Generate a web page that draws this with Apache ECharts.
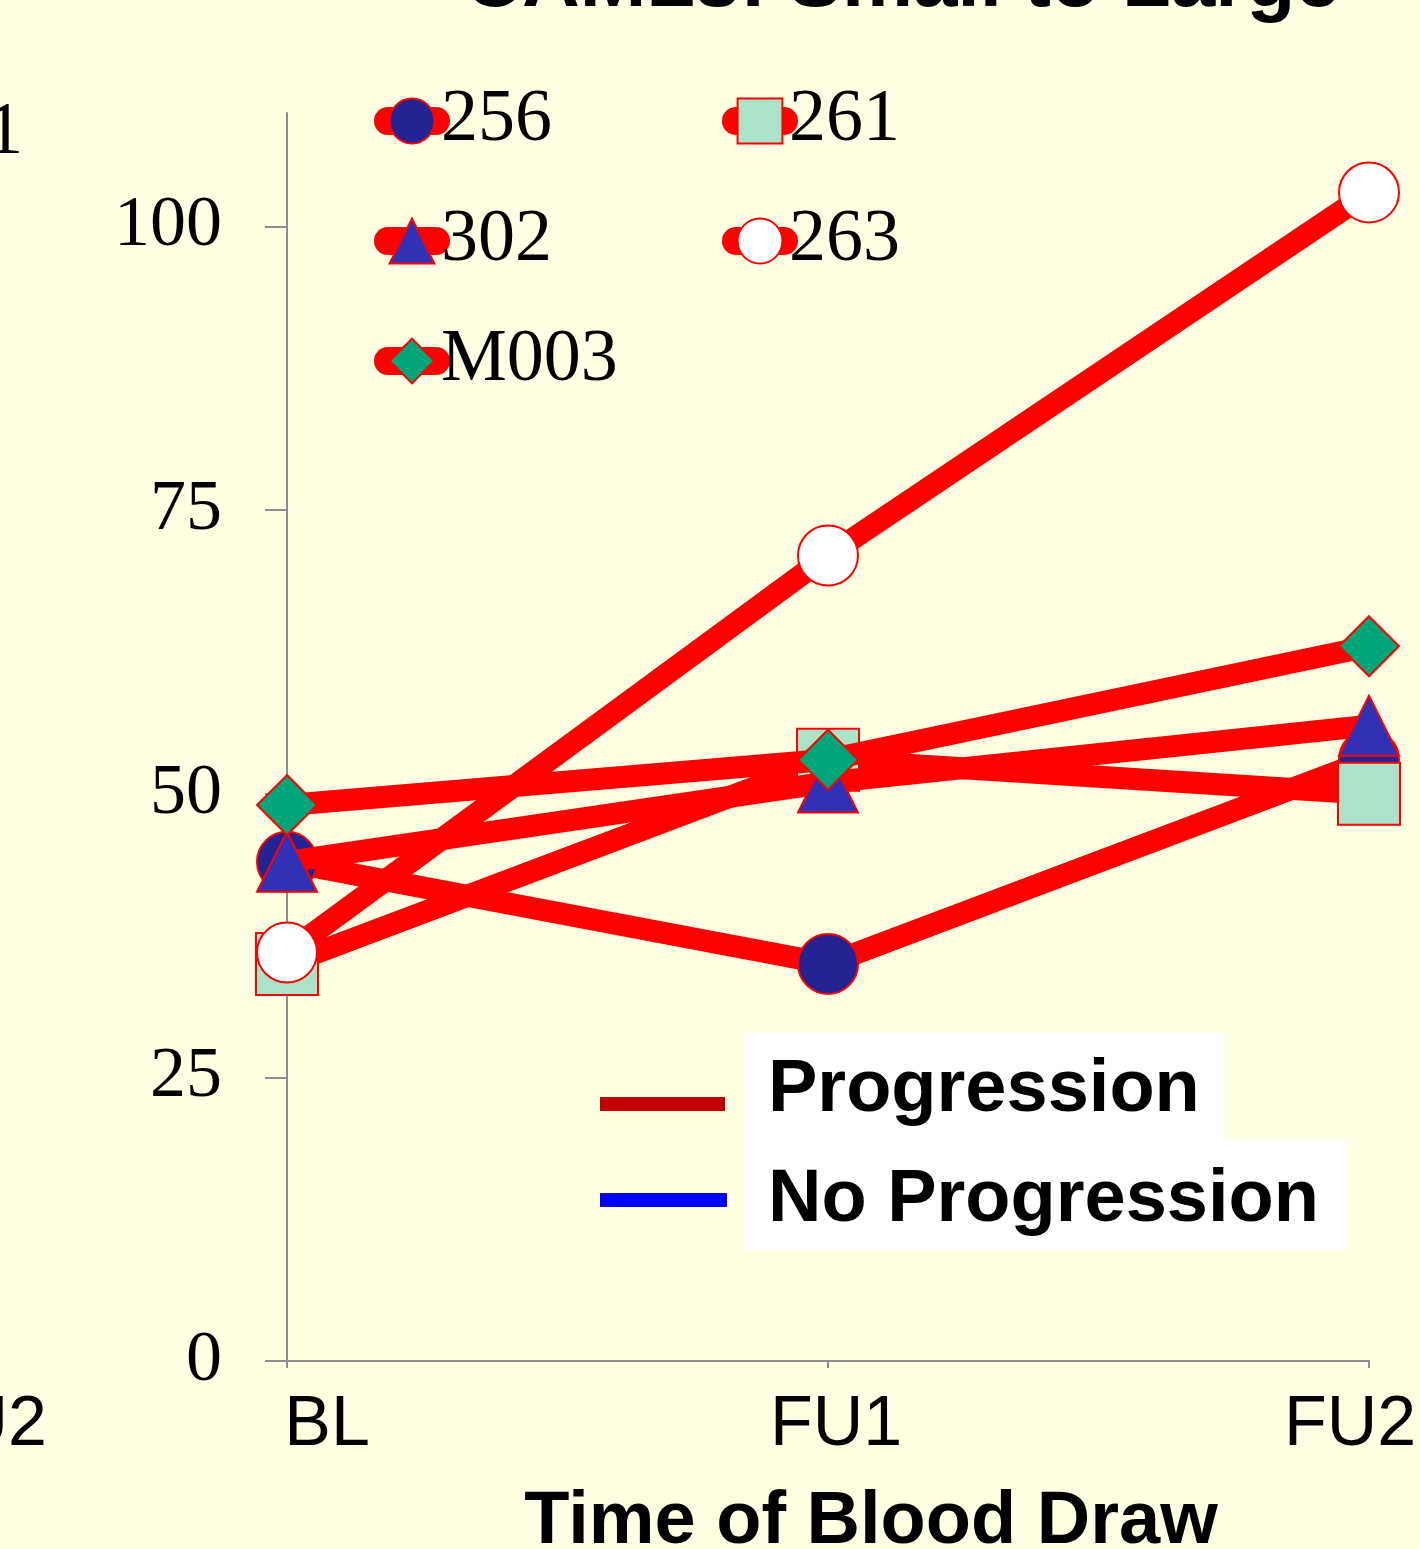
<!DOCTYPE html>
<html>
<head>
<meta charset="utf-8">
<script src="https://cdn.jsdelivr.net/npm/echarts@6/dist/echarts.min.js"></script>
<style>
  html, body { margin: 0; padding: 0; background: #FFFFE3; }
  #chart { width: 1420px; height: 1549px; }
</style>
</head>
<body>
<div id="chart"></div>
<script>
// Time points of the blood draws
const timepoints = ['BL', 'FU1', 'FU2'];
// CAML size per patient at each time point
const patients = ['256', '261', '302', '263', 'M003'];
const camls256 = [44, 35, 53];
const camls261 = [35, 53, 50];
const camls302 = [44, 51, 56];
const camls263 = [36, 71, 103];
const camlsM003 = [49, 53, 63];
const yTicks = [0, 25, 50, 75, 100];
const outcomeLabels = ['Progression', 'No Progression'];

const seriesValues = [camls256, camls261, camls302, camls263, camlsM003];
const markerShapes = ['circle', 'rect', 'triangle', 'circle', 'diamond'];
const markerFills = ['#232394', '#ABE3C9', '#3131B5', '#FFFFFF', '#00A67A'];
const markerSizes = [60, 62, 60, 60, 60];

const RED = '#FF0000';
const AXIS = '#8E8E8E';
const SERIF = '"Liberation Serif", "Times New Roman", serif';
const SANS = '"Liberation Sans", Arial, sans-serif';

const chart = echarts.init(document.getElementById('chart'), null, { renderer: 'canvas' });

const series = patients.map((name, i) => ({
  name: name,
  type: 'line',
  data: seriesValues[i],
  z: 2 + i,
  symbol: markerShapes[i],
  symbolSize: markerSizes[i],
  showAllSymbol: true,
  animation: false,
  lineStyle: { color: RED, width: 22, cap: 'round', join: 'round' },
  itemStyle: { color: markerFills[i], borderColor: RED, borderWidth: 2 },
  emphasis: { disabled: true }
}));

const legendCommon = {
  orient: 'vertical',
  padding: 0,
  itemWidth: 48,
  itemHeight: 56,
  itemGap: 46,
  selectedMode: false,
  lineStyle: { width: 28, cap: 'round', color: RED },
  itemStyle: { borderColor: RED, borderWidth: 2 },
  textStyle: { fontFamily: SERIF, fontSize: 74, lineHeight: 74, color: '#000' }
};

const option = {
  backgroundColor: '#FFFFE3',
  animation: false,
  grid: { left: 287, right: 51, top: 113, bottom: 188, containLabel: false, outerBoundsMode: 'none' },
  legend: [
    Object.assign({}, legendCommon, { data: [patients[0], patients[2], patients[4]], left: 374, top: 84 }),
    Object.assign({}, legendCommon, { data: [patients[1], patients[3]], left: 722, top: 84 })
  ],
  xAxis: {
    type: 'category',
    data: timepoints,
    boundaryGap: false,
    axisLine: { show: true, lineStyle: { color: AXIS, width: 2 } },
    axisTick: { show: true, length: 7, lineStyle: { color: AXIS, width: 2 } },
    splitLine: { show: false },
    axisLabel: {
      margin: 30,
      fontFamily: SANS,
      fontSize: 70,
      color: '#000',
      formatter: (v) => '{' + v.toLowerCase() + '|' + v + '}',
      rich: {
        bl: { fontFamily: SANS, fontSize: 70, color: '#000', padding: [0, 0, 0, 80] },
        fu1: { fontFamily: SANS, fontSize: 70, color: '#000', padding: [0, 0, 0, 16] },
        fu2: { fontFamily: SANS, fontSize: 70, color: '#000', padding: [0, 38, 0, 0] }
      }
    }
  },
  yAxis: {
    type: 'value',
    min: 0,
    max: 110,
    interval: 25,
    axisLine: { show: true, lineStyle: { color: AXIS, width: 2 } },
    axisTick: { show: true, length: 22, customValues: yTicks, lineStyle: { color: AXIS, width: 2 } },
    splitLine: { show: false },
    axisLabel: {
      customValues: yTicks,
      margin: 65,
      fontFamily: SERIF,
      fontSize: 72,
      color: '#000'
    }
  },
  series: series,
  graphic: [
    // chart title (partly above the frame)
    { type: 'text', x: 902, y: -16, silent: true,
      style: { text: 'CAMLs: Small to Large', fontFamily: SANS, fontWeight: 'bold', fontSize: 80,
               fill: '#000', align: 'center', verticalAlign: 'middle' } },
    // axis title
    { type: 'text', x: 871, y: 1523, silent: true,
      style: { text: 'Time of Blood Draw', fontFamily: SANS, fontWeight: 'bold', fontSize: 74,
               fill: '#000', align: 'center', verticalAlign: 'middle' } },
    // outcome key
    { type: 'rect', shape: { x: 745, y: 1032, width: 480, height: 108 }, style: { fill: '#FFFFFF' }, silent: true },
    { type: 'rect', shape: { x: 745, y: 1140, width: 602, height: 110 }, style: { fill: '#FFFFFF' }, silent: true },
    { type: 'line', shape: { x1: 600, y1: 1104, x2: 725, y2: 1104 }, style: { stroke: '#C00000', lineWidth: 14 }, silent: true },
    { type: 'line', shape: { x1: 600, y1: 1200, x2: 727, y2: 1200 }, style: { stroke: '#0000FF', lineWidth: 14 }, silent: true },
    { type: 'text', x: 768, y: 1091, silent: true,
      style: { text: outcomeLabels[0], fontFamily: SANS, fontWeight: 'bold', fontSize: 74,
               fill: '#000', align: 'left', verticalAlign: 'middle' } },
    { type: 'text', x: 768, y: 1201, silent: true,
      style: { text: outcomeLabels[1], fontFamily: SANS, fontWeight: 'bold', fontSize: 74,
               fill: '#000', align: 'left', verticalAlign: 'middle' } },
    // neighbouring panel labels at the left edge
    { type: 'text', x: -14, y: 134, silent: true,
      style: { text: '1', fontFamily: SERIF, fontSize: 74, fill: '#000', align: 'left', verticalAlign: 'middle' } },
    { type: 'text', x: 47, y: 1426, silent: true,
      style: { text: 'FU2', fontFamily: SANS, fontSize: 70, fill: '#000', align: 'right', verticalAlign: 'middle' } }
  ]
};

chart.setOption(option);
</script>
</body>
</html>
